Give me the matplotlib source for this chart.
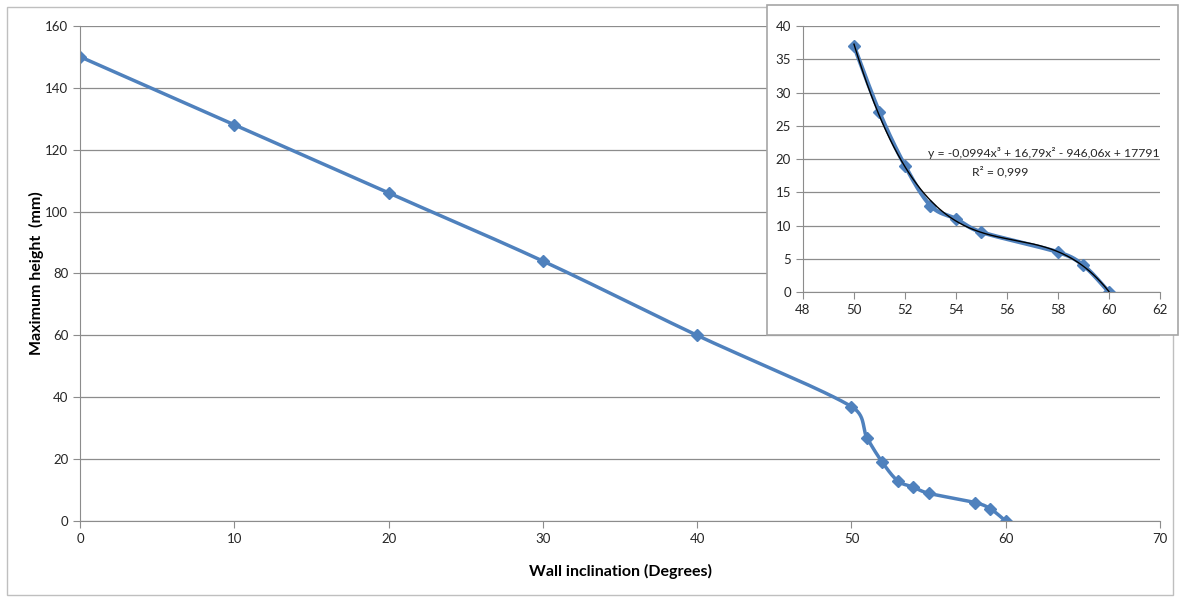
import numpy as np
import matplotlib.pyplot as plt
from matplotlib.patches import Rectangle

plt.rcParams['font.family'] = ['Lato', 'DejaVu Sans']

angle = [0, 10, 20, 30, 40, 50, 51, 52, 53, 54, 55, 58, 59, 60]
height = [150, 128, 106, 84, 60, 37, 27, 19, 13, 11, 9, 6, 4, 0]

inset_angle = angle[5:]
inset_height = height[5:]

blue = '#4F81BD'
grid_c = '#8C8C8C'
label_c = '#262626'


def smooth(x, y, sx, sy, n=30):
    # bezier smoothing done in pixel space, tangent handles capped by segment length
    p = np.column_stack([np.asarray(x, float) * sx, np.asarray(y, float) * sy])
    m = len(p)
    tang = np.array([p[min(i + 1, m - 1)] - p[max(i - 1, 0)] for i in range(m)])
    t = np.linspace(0, 1, n)[:, None]
    out = []
    for i in range(m - 1):
        p0, p3 = p[i], p[i + 1]
        seg = np.linalg.norm(p3 - p0)
        n0 = np.linalg.norm(tang[i])
        n1 = np.linalg.norm(tang[i + 1])
        c1 = p0 + tang[i] / n0 * min(n0 / 6, seg / 2)
        c2 = p3 - tang[i + 1] / n1 * min(n1 / 6, seg / 2)
        out.append((1 - t) ** 3 * p0 + 3 * (1 - t) ** 2 * t * c1
                   + 3 * (1 - t) * t ** 2 * c2 + t ** 3 * p3)
    out = np.vstack(out)
    return out[:, 0] / sx, out[:, 1] / sy


def style(ax):
    for s in ['top', 'right']:
        ax.spines[s].set_visible(False)
    for s in ['left', 'bottom']:
        ax.spines[s].set_color(grid_c)
    ax.tick_params(colors=grid_c, labelcolor=label_c, labelsize=9.5, length=5)
    ax.yaxis.grid(True, color=grid_c, linewidth=0.9)
    ax.set_axisbelow(True)


fig = plt.figure(figsize=(11.8, 5.99), dpi=100)
fig.patches.append(Rectangle((0.006, 0.006), 0.988, 0.982, transform=fig.transFigure,
                             fill=False, edgecolor='#BFBFBF', linewidth=1))

ax = fig.add_axes([0.0678, 0.130, 0.9153, 0.827])
style(ax)
sx, sy = smooth(angle, height, 1080 / 70, 495 / 160)
ax.plot(sx, sy, color=blue, linewidth=2.5)
ax.plot(angle, height, 'D', color=blue, markersize=6)
ax.set_xlim(0, 70)
ax.set_ylim(0, 160)
ax.set_xticks(range(0, 71, 10))
ax.set_yticks(range(0, 161, 20))
ax.set_xlabel('Wall inclination (Degrees)', fontsize=11.5, fontweight='bold', labelpad=14)
ax.set_ylabel('Maximum height  (mm)', fontsize=11.5, fontweight='bold')
ax.yaxis.set_label_coords(-0.033, 0.5)

fig.patches.append(Rectangle((0.650, 0.441), 0.348, 0.551, transform=fig.transFigure,
                             facecolor='white', edgecolor='#A6A6A6', linewidth=1.2, zorder=5))
ins = fig.add_axes([0.6805, 0.5125, 0.3025, 0.444], zorder=6)
ins.patch.set_alpha(0)
style(ins)
ix, iy = smooth(inset_angle, inset_height, 357 / 14, 266 / 40)
ins.plot(ix, iy, color=blue, linewidth=3)
ins.plot(inset_angle, inset_height, 'D', color=blue, markersize=6)
coef = np.polyfit(inset_angle, inset_height, 3)
fx = np.linspace(50, 60, 200)
ins.plot(fx, np.polyval(coef, fx), color='black', linewidth=1)
ins.set_xlim(48, 62)
ins.set_ylim(0, 40)
ins.set_xticks(range(48, 63, 2))
ins.set_yticks(range(0, 41, 5))
ins.text(1.0, 0.523, 'y = -0,0994x³ + 16,79x² - 946,06x + 17791', transform=ins.transAxes,
         ha='right', va='center', fontsize=8.8, color=label_c)
ins.text(0.552, 0.452, 'R² = 0,999', transform=ins.transAxes,
         ha='center', va='center', fontsize=8.8, color=label_c)

fig.savefig('out.png', dpi=100)
